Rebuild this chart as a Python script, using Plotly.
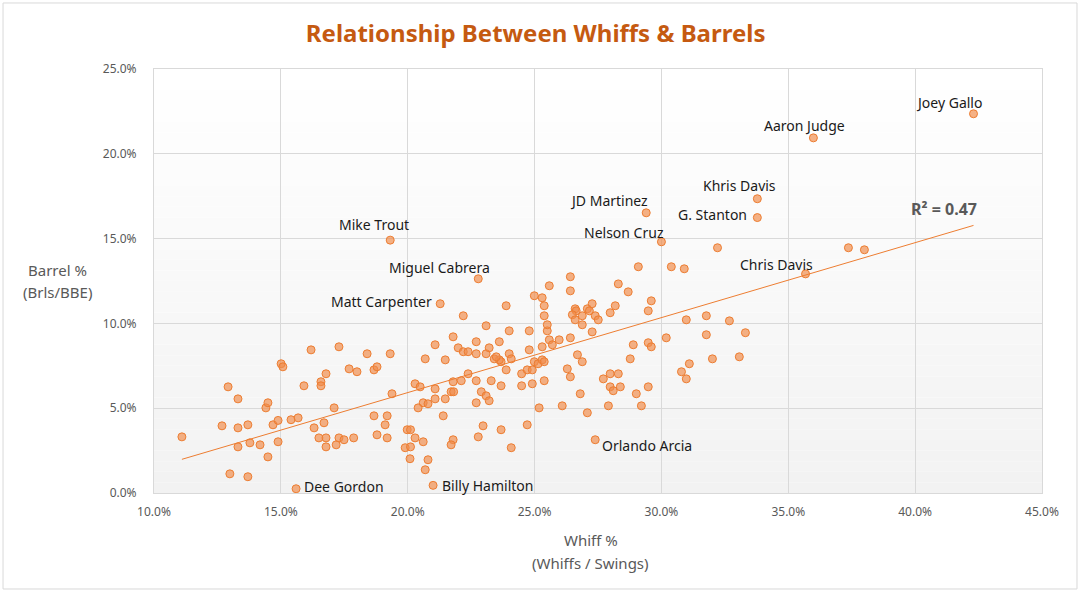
import numpy as np
import plotly.graph_objects as go

# Whiff % (Whiffs / Swings) and Barrel % (Brls/BBE)
# labelled hitters
named_players = ["Joey Gallo", "Aaron Judge", "Khris Davis", "G. Stanton", "JD Martinez",
                 "Nelson Cruz", "Chris Davis", "Mike Trout", "Miguel Cabrera",
                 "Matt Carpenter", "Orlando Arcia", "Billy Hamilton", "Dee Gordon"]
named_whiff = [42.30, 35.99, 33.78, 33.78, 29.40, 30.00, 35.68, 19.31, 22.78, 21.28, 27.39, 21.00, 15.60]
named_barrel = [22.36, 20.94, 17.35, 16.24, 16.52, 14.81, 12.92, 14.91, 12.63, 11.16, 3.14, 0.45, 0.25]

# everybody else
other_whiff = [
    11.10, 12.92, 13.31, 12.68, 13.31, 13.70, 13.31, 13.78, 14.18, 14.49,
    12.99, 13.70, 14.41, 14.49, 14.69, 14.89, 14.89, 15.01, 15.08, 16.19,
    17.29, 15.91, 16.58, 16.58, 16.78, 15.40, 15.68, 16.31, 16.70, 17.10,
    16.50, 16.78, 16.78, 17.18, 17.29, 17.49, 17.87, 17.69, 18.00, 18.40,
    19.31, 18.67, 18.79, 19.38, 18.67, 19.19, 19.11, 18.79, 19.19, 19.98,
    20.11, 20.29, 19.90, 20.11, 20.09, 20.29, 20.49, 20.41,
    20.61, 20.80, 21.08, 21.08, 21.48, 21.71, 21.81, 21.79, 22.11, 22.38,
    22.70, 22.70, 22.90, 23.09, 23.21, 23.29, 23.68, 21.40, 20.61, 20.80, 20.69,
    21.79, 21.71, 22.78, 22.97, 23.68, 24.08, 24.71, 25.18, 26.09, 27.08,
    27.91, 29.21, 29.01, 29.48, 26.80, 27.71, 27.98, 28.30, 27.98, 28.10, 28.38,
    26.29, 26.41, 26.69, 26.88, 28.77, 28.89, 29.48, 29.60,
    24.49, 24.49, 24.71, 24.91, 24.91, 24.99, 25.14, 25.30, 25.38, 25.38,
    23.88, 23.68, 23.61, 23.41, 23.49, 24.00, 24.08, 24.79, 25.30, 25.58,
    25.70, 25.97, 26.41, 25.50, 24.79, 24.00, 27.27,
    20.69, 21.08, 21.48, 21.79, 21.99, 22.19, 22.38, 22.70, 22.70, 23.09, 23.21, 23.61,
    22.19, 23.88, 23.09, 24.99, 25.30, 25.38, 25.38, 25.50, 25.58, 26.41,
    26.41, 26.60, 26.64, 26.49, 26.60, 26.88, 26.88, 27.08, 27.16, 27.27,
    27.39, 27.51, 27.98, 28.18, 28.30, 28.69, 29.09, 29.60, 29.48,
    32.21, 30.39, 30.90, 30.98, 31.77, 32.68, 30.19, 31.77, 33.31, 32.01,
    33.07, 31.10, 30.79, 30.98,
    37.37, 38.00,
]
other_barrel = [
    3.31, 6.26, 5.55, 3.96, 3.84, 4.02, 2.72, 2.96, 2.84, 2.13,
    1.13, 0.96, 5.02, 5.32, 4.02, 4.28, 3.02, 7.62, 7.44, 8.44,
    8.62, 6.32, 6.56, 6.32, 7.03, 4.32, 4.43, 3.84, 4.14, 5.02,
    3.25, 3.25, 2.72, 2.84, 3.25, 3.14, 3.25, 7.32, 7.15, 8.21,
    8.21, 7.26, 7.44, 5.85, 4.55, 4.55, 4.02, 3.43, 3.25, 3.73,
    3.73, 3.25, 2.67, 2.72, 2.02, 6.44, 6.26, 5.02,
    5.32, 5.26, 5.55, 6.14, 5.55, 5.97, 5.97, 6.56, 6.62, 7.03,
    6.62, 5.32, 5.97, 5.73, 5.44, 6.62, 6.32, 4.55, 3.02, 1.96, 1.37,
    3.14, 2.84, 3.31, 3.96, 3.73, 2.67, 4.02, 5.02, 5.14, 4.73,
    5.14, 5.14, 5.85, 6.26, 5.85, 6.73, 7.03, 7.03, 6.26, 6.03, 6.26,
    7.32, 6.85, 8.15, 7.74, 7.91, 8.74, 8.86, 8.62,
    7.03, 6.32, 7.26, 7.26, 6.44, 7.74, 7.62, 7.85, 7.74, 6.62,
    7.26, 7.74, 7.85, 7.91, 8.03, 8.21, 7.91, 8.44, 8.62, 9.03,
    8.74, 9.03, 9.15, 9.56, 9.56, 9.56, 9.50,
    7.91, 8.74, 7.85, 9.21, 8.56, 8.33, 8.33, 8.92, 8.21, 8.21, 8.56, 8.92,
    10.45, 11.04, 9.86, 11.63, 11.51, 11.04, 10.45, 9.92, 12.22, 12.75,
    11.92, 10.86, 10.74, 10.51, 10.21, 10.45, 9.92, 10.86, 10.74, 11.16,
    10.45, 10.21, 10.63, 11.04, 12.33, 11.86, 13.34, 11.33, 10.74,
    14.46, 13.34, 13.22, 10.21, 10.45, 10.15, 9.15, 9.33, 9.45, 7.91,
    8.03, 7.62, 7.15, 6.73,
    14.46, 14.34,
]

x_ticks = [10, 15, 20, 25, 30, 35, 40, 45]
y_ticks = [0, 5, 10, 15, 20, 25]
r2_text = "R² = 0.47"

# label placement (pixel offsets from the point)
label_pos = {
    "Joey Gallo": ("center", -25, 11),
    "Aaron Judge": ("center", -9, 12),
    "Khris Davis": ("center", -18, 13),
    "G. Stanton": ("right", -8, 3),
    "JD Martinez": ("center", -37, 12),
    "Nelson Cruz": ("center", -37, 9),
    "Chris Davis": ("center", -29, 9),
    "Mike Trout": ("center", -16, 16),
    "Miguel Cabrera": ("center", -39, 11),
    "Matt Carpenter": ("right", -6, 2),
    "Orlando Arcia": ("left", 5, -6),
    "Billy Hamilton": ("left", 7, 0),
    "Dee Gordon": ("left", 6, 2),
}

FONT = "Noto Sans"
ORANGE = "#ED7D31"
GRAY = "#595959"

all_x = np.array(other_whiff + named_whiff)
all_y = np.array(other_barrel + named_barrel)

# linear trendline over the data range
slope, intercept = np.polyfit(all_x, all_y, 1)
trend_x = np.array([all_x.min(), all_x.max()])
trend_y = slope * trend_x + intercept

fig = go.Figure()

fig.add_trace(go.Scatter(
    x=all_x, y=all_y,
    mode="markers",
    marker=dict(size=8, color="rgba(240,140,75,0.68)", line=dict(color=ORANGE, width=1)),
    hoverinfo="x+y",
    showlegend=False,
))

fig.add_trace(go.Scatter(
    x=trend_x, y=trend_y,
    mode="lines",
    line=dict(color=ORANGE, width=1),
    hoverinfo="skip",
    showlegend=False,
))

# player labels
for name, wx, by in zip(named_players, named_whiff, named_barrel):
    anchor, dx, dy = label_pos[name]
    fig.add_annotation(
        x=wx, y=by, xref="x", yref="y", text=name, showarrow=False,
        xanchor=anchor, yanchor="middle", xshift=dx, yshift=dy,
        font=dict(family=FONT, size=14, color="#1a1a1a"),
    )

fig.add_annotation(
    x=41.14, y=16.74, xref="x", yref="y", text=r2_text, showarrow=False,
    font=dict(family=FONT, size=16, color=GRAY, weight="bold"),
)

# axis titles (Excel puts them as horizontal two-line blocks)
for txt, xp, yp in [("Barrel %", -0.1092, 0.526), ("(Brls/BBE)", -0.1092, 0.474),
                    ("Whiff %", 0.492, -0.111), ("(Whiffs / Swings)", 0.492, -0.165)]:
    fig.add_annotation(
        x=xp, y=yp, xref="paper", yref="paper", text=txt, showarrow=False,
        xanchor="center", yanchor="middle",
        font=dict(family=FONT, size=15, color=GRAY),
    )

# soft vertical gradient in the plot area
n_bands = 40
shapes = []
for i in range(n_bands):
    t = i / (n_bands - 1)
    g = int(round(242 + (255 - 242) * t))
    shapes.append(dict(
        type="rect", xref="x domain", yref="y domain",
        x0=0, x1=1, y0=i / n_bands, y1=(i + 1) / n_bands,
        fillcolor=f"rgb({g},{g},{g})", line=dict(width=0), layer="below",
    ))
# chart border
shapes.append(dict(
    type="rect", xref="paper", yref="paper",
    x0=-0.170, x1=1.0394, y0=-0.2264, y1=1.1557,
    line=dict(color="#D9D9D9", width=1), fillcolor="rgba(0,0,0,0)", layer="below",
))

fig.update_layout(
    width=1080, height=593,
    margin=dict(l=154, r=38, t=69, b=100),
    paper_bgcolor="white",
    plot_bgcolor="white",
    title=dict(
        text="Relationship Between Whiffs & Barrels",
        x=0.496, xanchor="center", y=0.944, yanchor="middle",
        font=dict(family=FONT, size=24, color="#C55A11", weight="bold"),
    ),
    shapes=shapes,
    showlegend=False,
    font=dict(family=FONT),
)

fig.update_xaxes(
    range=[10, 45], tickvals=x_ticks, ticktext=[f"{v:.1f}%" for v in x_ticks],
    showgrid=True, gridcolor="#D9D9D9", gridwidth=1,
    showline=True, linecolor="#D9D9D9", linewidth=1, mirror=True,
    zeroline=False, ticks="", ticklabelstandoff=8,
    tickfont=dict(family=FONT, size=12, color=GRAY),
)
fig.update_yaxes(
    range=[0, 25], tickvals=y_ticks, ticktext=[f"{v:.1f}%" for v in y_ticks],
    showgrid=True, gridcolor="#D9D9D9", gridwidth=1,
    showline=True, linecolor="#D9D9D9", linewidth=1, mirror=True,
    zeroline=False, ticks="", ticklabelstandoff=14,
    tickfont=dict(family=FONT, size=12, color=GRAY),
)

# page body has a default margin; drop it so the chart sits at the window origin
fig.write_html("out.html", config={"displayModeBar": False},
               post_script="document.body.style.margin='0';")
